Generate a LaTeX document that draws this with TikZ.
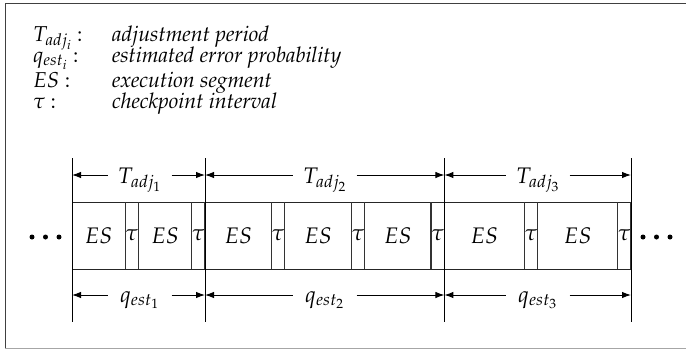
\documentclass[tikz,border=0pt]{standalone}
\usepackage[T1]{fontenc}
\usepackage{mathpazo}
\usetikzlibrary{arrows.meta}
\begin{document}
\begin{tikzpicture}[x=1pt,y=-1pt,
  every node/.style={inner sep=0pt, outer sep=0pt},
  legfont/.style={font=\fontsize{21.5}{26}\selectfont},
  boxfont/.style={font=\fontsize{22.5}{26}\selectfont},
  es/.style={draw=black!85, line width=0.8pt, minimum height=67, boxfont, anchor=west},
  tau/.style={minimum height=67, minimum width=13.3, boxfont, anchor=west},
  tauline/.style={line width=1.3pt, black!80},
  vline/.style={line width=0.9pt},
  arr/.style={line width=1pt, -{Latex[length=9pt,width=6.5pt]}},
  lab/.style={font=\fontsize{22.5}{26}\selectfont, minimum width=64, anchor=base},
  dot/.style={circle, fill=black, minimum size=5pt}
]
\useasboundingbox (0,0) rectangle (686,349);
% frame
\draw[black!75, line width=0.9pt] (690,3.5) -- (5,3.5) -- (5,348);
\draw[black!35, line width=0.9pt] (5,348) -- (690,348);

% legend
\node[legfont, anchor=base west] (k1) at (33,41) {$T_{adj_i}$ :};
\node[legfont, anchor=base west] (k2) at (33,62.5) {$q_{est_i}$ :};
\node[legfont, anchor=base west] (k3) at (33,87.5) {$ES$ :};
\node[legfont, anchor=base west] (k4) at (33,108) {$\tau$ :};
\node[legfont, anchor=base west] (d1) at (112,41) {\textit{adjustment period}};
\node[legfont, anchor=base west] (d2) at (112,62.5) {\textit{estimated error probability}};
\node[legfont, anchor=base west] (d3) at (112,87.5) {\textit{execution segment}};
\node[legfont, anchor=base west] (d4) at (112,108) {\textit{checkpoint interval}};

% segments
\node[es, minimum width=53.2] (s1) at (72,235.5) {$ES$};
\node[tau] (t1) at (s1.east) {$\tau$};
\node[es, minimum width=53.2] (s2) at (t1.east) {$ES$};
\node[tau] (t2) at (s2.east) {$\tau$};
\node[es, minimum width=66.5] (s3) at (t2.east) {$ES$};
\node[tau] (t3) at (s3.east) {$\tau$};
\node[es, minimum width=66.5] (s4) at (t3.east) {$ES$};
\node[tau] (t4) at (s4.east) {$\tau$};
\node[es, minimum width=66.5] (s5) at (t4.east) {$ES$};
\node[tau] (t5) at (s5.east) {$\tau$};
\node[es, minimum width=80] (s6) at (t5.east) {$ES$};
\node[tau] (t6) at (s6.east) {$\tau$};
\node[es, minimum width=80] (s7) at (t6.east) {$ES$};
\node[tau] (t7) at (s7.east) {$\tau$};
\foreach \t in {t1,t2,t3,t4,t5,t6,t7}{
  \draw[black!85, line width=0.8pt] (\t.north west) -- (\t.north east);
  \draw[black!85, line width=0.8pt] (\t.south west) -- (\t.south east);
  \draw[tauline] (\t.north west) -- (\t.south west);
  \draw[tauline] (\t.north east) -- (\t.south east);
}

% dots
\node[dot] (ld1) at (32,237) {};
\node[dot] (ld2) at (45.5,237) {};
\node[dot] (ld3) at (59,237) {};
\node[dot] (rd1) at (643,237) {};
\node[dot] (rd2) at (656.5,237) {};
\node[dot] (rd3) at (670,237) {};

% dimension lines
\coordinate (vtop) at (0,158);
\coordinate (vbot) at (0,322);
\coordinate (ytop) at (0,175);
\coordinate (ybot) at (0,295);
\draw[vline] (s1.west |- vtop) -- (s1.west |- vbot);
\draw[vline] (s3.west |- vtop) -- (s3.west |- vbot);
\draw[vline] (s6.west |- vtop) -- (s6.west |- vbot);
\draw[vline] (t7.east |- vtop) -- (t7.east |- vbot);

\node[lab] (L1) at (139.5,183) {$T_{adj_1}$};
\node[lab] (L2) at (324.7,183) {$T_{adj_2}$};
\node[lab] (L3) at (537.7,183) {$T_{adj_3}$};
\node[lab] (Q1) at (139.5,302) {$q_{est_1}$};
\node[lab] (Q2) at (324.7,302) {$q_{est_2}$};
\node[lab] (Q3) at (537.7,302) {$q_{est_3}$};

\draw[arr] (L1.west |- ytop) -- (s1.west |- ytop);
\draw[arr] (L1.east |- ytop) -- (s3.west |- ytop);
\draw[arr] (L2.west |- ytop) -- (s3.west |- ytop);
\draw[arr] (L2.east |- ytop) -- (s6.west |- ytop);
\draw[arr] (L3.west |- ytop) -- (s6.west |- ytop);
\draw[arr] (L3.east |- ytop) -- (t7.east |- ytop);
\draw[arr] (Q1.west |- ybot) -- (s1.west |- ybot);
\draw[arr] (Q1.east |- ybot) -- (s3.west |- ybot);
\draw[arr] (Q2.west |- ybot) -- (s3.west |- ybot);
\draw[arr] (Q2.east |- ybot) -- (s6.west |- ybot);
\draw[arr] (Q3.west |- ybot) -- (s6.west |- ybot);
\draw[arr] (Q3.east |- ybot) -- (t7.east |- ybot);
\end{tikzpicture}
\end{document}
